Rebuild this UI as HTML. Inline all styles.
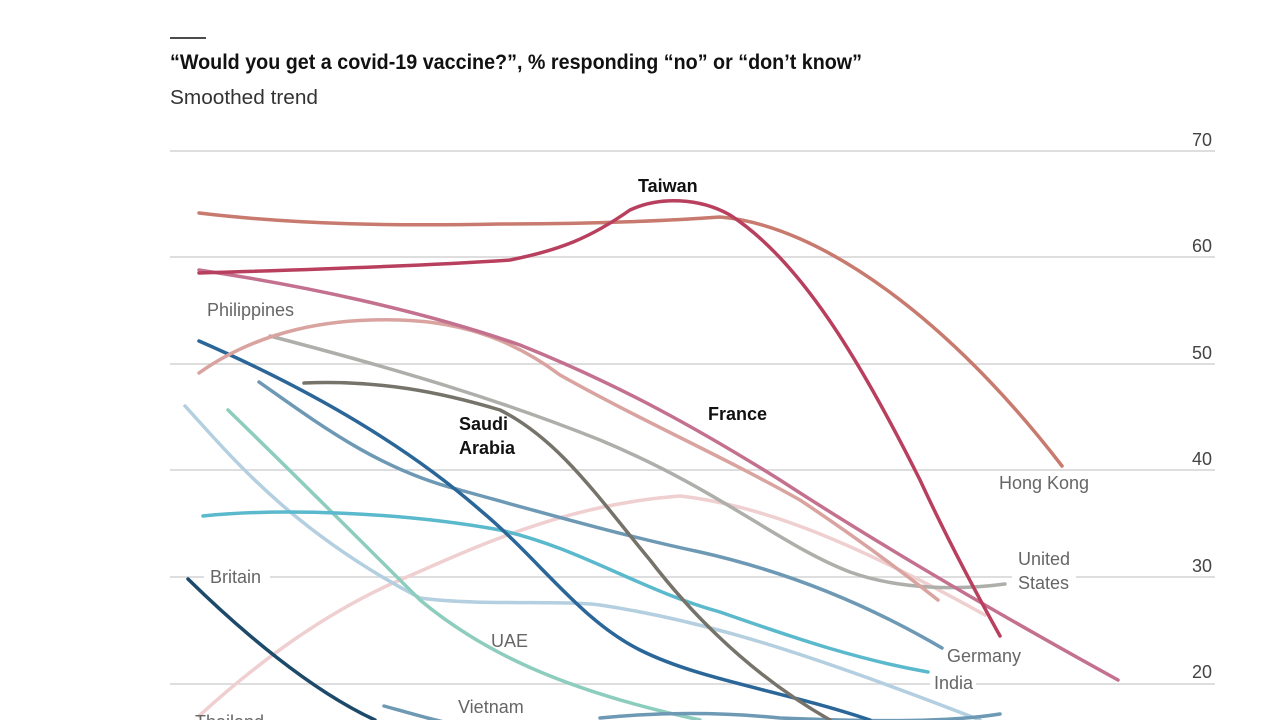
<!DOCTYPE html>
<html><head><meta charset="utf-8"><style>
html,body{margin:0;padding:0;background:#fff;}
svg{display:block;font-family:"Liberation Sans Narrow","Liberation Sans",sans-serif;}
</style></head><body>
<svg width="1280" height="720" viewBox="0 0 1280 720" xmlns="http://www.w3.org/2000/svg">
<line x1="170" y1="38" x2="206" y2="38" stroke="#111" stroke-width="1.5"/>
<text x="170" y="69" font-size="21" font-weight="bold" fill="#111" textLength="692" lengthAdjust="spacingAndGlyphs">“Would you get a covid-19 vaccine?”, % responding “no” or “don’t know”</text>
<text x="170" y="104" font-size="20" fill="#333" textLength="148" lengthAdjust="spacingAndGlyphs">Smoothed trend</text>
<g stroke="#d4d4d4" stroke-width="1.5">
<line x1="170" y1="151" x2="1215" y2="151"/>
<line x1="170" y1="257" x2="1215" y2="257"/>
<line x1="170" y1="364" x2="1215" y2="364"/>
<line x1="170" y1="470" x2="1215" y2="470"/>
<line x1="170" y1="577" x2="1215" y2="577"/>
<line x1="170" y1="684" x2="1215" y2="684"/>
</g>
<g font-size="18" fill="#444" text-anchor="end">
<text x="1212" y="146">70</text><text x="1212" y="252">60</text><text x="1212" y="359">50</text>
<text x="1212" y="465">40</text><text x="1212" y="572">30</text><text x="1212" y="678">20</text>
</g>
<g fill="none" stroke-width="3.5" stroke-linecap="round" stroke-linejoin="round">
<path stroke="#efcfcf" d="M199,716 C260,660 330,610 400,580 C470,550 560,505 680,496 C760,505 850,540 985,615"/>
<path stroke="#b3cfe0" d="M185,406 C230,455 290,530 420,598 C480,606 560,600 600,605 C700,620 800,650 980,720"/>
<path stroke="#8dcdbd" d="M228,410 C300,480 360,540 420,600 C480,650 560,690 700,720"/>
<path stroke="#6d99b4" d="M384,706 C420,716 440,722 460,725"/>
<path stroke="#6d99b4" d="M600,718 C660,712 720,712 780,718 C880,722 950,722 1000,714"/>
<path stroke="#5ab9cc" d="M203,516 C280,508 400,512 500,530 C580,548 640,590 720,612 C800,640 860,660 928,672"/>
<path stroke="#6d99b4" d="M259,382 C320,425 380,470 460,490 C540,512 620,535 700,552 C780,570 860,600 942,648"/>
<path stroke="#2b6699" d="M199,341 C300,385 400,440 480,510 C540,560 580,620 640,650 C700,680 780,690 870,720"/>
<path stroke="#1d4a6b" d="M188,579 C240,630 310,690 375,720"/>
<path stroke="#aeaeaa" d="M270,336 C400,370 500,400 600,440 C720,490 780,545 850,572 C900,590 960,590 1005,584"/>
<path stroke="#d9a3a0" d="M199,373 C260,330 330,318 400,320 C470,322 520,345 560,375 C640,420 720,455 800,500 C860,540 900,570 938,600"/>
<path stroke="#76736a" d="M304,383 C380,380 440,392 500,410 C560,440 600,500 650,560 C700,625 760,680 830,720"/>
<path stroke="#c4708f" d="M199,270 C300,285 420,310 520,345 C620,385 700,430 780,480 C880,545 1000,615 1118,680"/>
<path stroke="#c87a6e" d="M199,213 C300,225 400,226 500,224 C600,224 680,220 720,217 C820,225 950,320 1062,466"/>
<path stroke="#b8405e" d="M199,273 C300,270 420,266 510,260 C560,250 590,238 630,210 C660,196 700,198 730,215 C800,260 860,360 920,480 C950,545 980,600 1000,636"/>
</g>
<g font-size="18" fill="#666">
<text x="207" y="316">Philippines</text>
<rect x="204" y="564" width="66" height="24" fill="#fff"/>
<text x="210" y="583">Britain</text>
<text x="491" y="647">UAE</text>
<text x="458" y="713">Vietnam</text>
<text x="195" y="728">Thailand</text>
<text x="947" y="662">Germany</text>
<rect x="930" y="672" width="46" height="22" fill="#fff"/>
<text x="934" y="689">India</text>
<rect x="1012" y="566" width="64" height="24" fill="#fff"/>
<text x="1018" y="565">United</text>
<text x="1018" y="589">States</text>
<text x="999" y="489">Hong Kong</text>
</g>
<g font-size="18" font-weight="bold" fill="#111">
<text x="638" y="192">Taiwan</text>
<text x="708" y="420">France</text>
<text x="459" y="430">Saudi</text>
<text x="459" y="454">Arabia</text>
</g>
</svg>
</body></html>
